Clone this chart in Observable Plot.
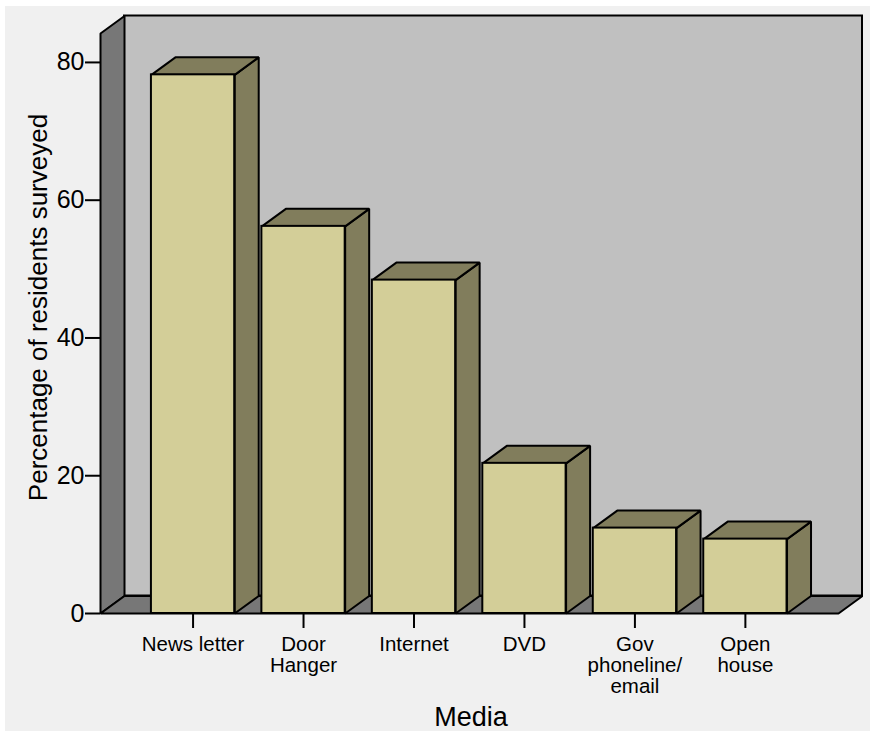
<!DOCTYPE html>
<html>
<head>
<meta charset="utf-8">
<script src="https://cdn.jsdelivr.net/npm/d3@7"></script>
<script src="https://cdn.jsdelivr.net/npm/@observablehq/plot@0.6"></script>
<style>
  html, body { margin: 0; padding: 0; background: #ffffff; }
  #chart { position: absolute; left: 5px; top: 6px; }
</style>
</head>
<body>
<div id="chart"></div>
<script>
// Survey results: share of residents reached by each medium
const media = ["News letter", "Door\nHanger", "Internet", "DVD", "Gov\nphoneline/\nemail", "Open\nhouse"];
const percent = [78.2, 56.2, 48.4, 21.8, 12.4, 10.8];
const yTicks = [0, 20, 40, 60, 80];

// Layout
const W = 865, H = 725;
const M = {top: 27, right: 32, bottom: 118, left: 95};
const xDomain = [-0.838, 5.843];
const yDomain = [0, 84.2];
const depthPx = [24, 17.5];      // 3-D extrusion in pixels (right, up)
const half = 0.377;              // half bar width, in category steps

const colors = {
  page: "#f0f0f0",
  backWall: "#c0c0c0",
  sideWall: "#777777",
  front: "#d3ce98",
  shade: "#817d5c"
};

// pixel depth expressed in data units of each scale
const kx = (W - M.left - M.right) / (xDomain[1] - xDomain[0]);
const ky = (H - M.top - M.bottom) / (yDomain[1] - yDomain[0]);
const DX = depthPx[0] / kx, DY = depthPx[1] / ky;

const [xL, xR] = xDomain;
const yTop = yDomain[1];

const bars = media.map((m, i) => ({i, m, v: percent[i], x1: i - half, x2: i + half}));

const poly = (id, pts) => pts.map(([x, y]) => ({id, x, y}));

const backWall = [{x1: xL + DX, x2: xR + DX, y1: DY, y2: yTop + DY}];
const leftWall = poly("left", [[xL, 0], [xL, yTop], [xL + DX, yTop + DY], [xL + DX, DY]]);
const floor = poly("floor", [[xL, 0], [xL + DX, DY], [xR + DX, DY], [xR, 0]]);
const sideFaces = bars.flatMap(b => poly(b.i, [[b.x2, 0], [b.x2, b.v], [b.x2 + DX, b.v + DY], [b.x2 + DX, DY]]));
const topFaces = bars.flatMap(b => poly(b.i, [[b.x1, b.v], [b.x2, b.v], [b.x2 + DX, b.v + DY], [b.x1 + DX, b.v + DY]]));

const edge = {stroke: "black", strokeWidth: 2, strokeLinejoin: "miter"};
const face = (data, fill) => Plot.line(data, {x: "x", y: "y", z: "id", fill, curve: "linear-closed", ...edge});

const chart = Plot.plot({
  width: W,
  height: H,
  marginTop: M.top,
  marginRight: M.right,
  marginBottom: M.bottom,
  marginLeft: M.left,
  style: {
    background: colors.page,
    color: "black",
    fontFamily: "'Liberation Sans', Arial, sans-serif",
    overflow: "visible"
  },
  x: {domain: xDomain},
  y: {domain: yDomain},
  marks: [
    Plot.rect(backWall, {x1: "x1", x2: "x2", y1: "y1", y2: "y2", fill: colors.backWall, ...edge}),
    face(leftWall, colors.sideWall),
    face(floor, colors.sideWall),
    face(sideFaces, colors.shade),
    face(topFaces, colors.shade),
    Plot.rect(bars, {x1: "x1", x2: "x2", y1: 0, y2: "v", fill: colors.front, ...edge}),
    Plot.axisY({
      ticks: yTicks,
      tickSize: 15,
      tickPadding: 1,
      strokeWidth: 2,
      fontSize: 25,
      label: null
    }),
    Plot.axisX({
      ticks: bars.map(b => b.i),
      tickFormat: i => media[i],
      tickSize: 15,
      tickPadding: 8,
      strokeWidth: 2,
      fontSize: 20.5,
      lineHeight: 1.02,
      label: null
    }),
    Plot.text(["Percentage of residents surveyed"], {
      text: d => d,
      frameAnchor: "left",
      textAnchor: "middle",
      rotate: -90,
      dx: -62,
      dy: -16,
      fontSize: 26
    }),
    Plot.text(["Media"], {
      text: d => d,
      frameAnchor: "bottom",
      dx: 1.5,
      dy: 112,
      fontSize: 27
    })
  ]
});

document.getElementById("chart").append(chart);
</script>
</body>
</html>
